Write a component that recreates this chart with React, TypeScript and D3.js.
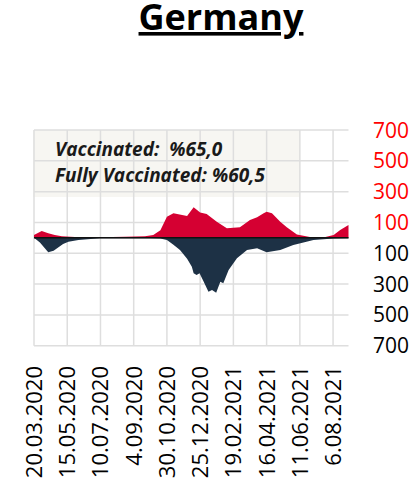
import React from 'react';
import * as d3 from 'd3';

// cases (drawn upward, red)
const caseDates = [
  '2020-03-20', '2020-04-02', '2020-04-13', '2020-04-24', '2020-05-06', '2020-05-28',
  '2020-07-09', '2020-08-20', '2020-09-23', '2020-10-07', '2020-10-19', '2020-10-30',
  '2020-11-10', '2020-12-03', '2020-12-14', '2020-12-25', '2021-01-05', '2021-01-22',
  '2021-02-08', '2021-03-02', '2021-03-19', '2021-03-31', '2021-04-11', '2021-04-16',
  '2021-04-25', '2021-05-09', '2021-05-20', '2021-06-06', '2021-06-28', '2021-07-24',
  '2021-08-07', '2021-08-18', '2021-09-01',
];
const caseValues = [
  19, 44, 30, 18, 10, 5,
  4, 7, 10, 18, 50, 137,
  160, 142, 198, 165, 155, 105,
  62, 68, 116, 133, 160, 170,
  160, 105, 68, 22, 5, 6,
  19, 51, 83,
];

// deaths (drawn downward, navy)
const deathDates = [
  '2020-03-20', '2020-03-30', '2020-04-13', '2020-04-22', '2020-05-08', '2020-05-17',
  '2020-06-03', '2020-07-09', '2020-10-02', '2020-10-19', '2020-10-30', '2020-11-10',
  '2020-11-21', '2020-12-03', '2020-12-11', '2020-12-14', '2020-12-19', '2020-12-24',
  '2020-12-31', '2021-01-08', '2021-01-14', '2021-01-21', '2021-01-28', '2021-02-02',
  '2021-02-11', '2021-02-25', '2021-03-14', '2021-03-31', '2021-04-16', '2021-05-09',
  '2021-05-31', '2021-06-12', '2021-07-04', '2021-08-07', '2021-09-01',
];
const deathValues = [
  0, 30, 94, 83, 40, 25,
  14, 3, 3, 5, 14, 45,
  79, 135, 187, 230, 241, 230,
  285, 350, 339, 356, 285, 295,
  209, 133, 79, 68, 94, 79,
  46, 35, 14, 4, 2,
];

const xTickDates = [
  '2020-03-20', '2020-05-15', '2020-07-10', '2020-09-04', '2020-10-30',
  '2020-12-25', '2021-02-19', '2021-04-16', '2021-06-11', '2021-08-06',
];
const yTicks = [700, 500, 300, 100, -100, -300, -500, -700];

const title = 'Germany';
const vaccinated = 'Vaccinated:  %65,0';
const fullyVaccinated = 'Fully Vaccinated: %60,5';

const parse = d3.utcParse('%Y-%m-%d');
const fmt = d3.utcFormat('%d.%m.%Y');
const tickLabel = (d: Date) => {
  const s = fmt(d);
  return s.startsWith('0') ? s.slice(1) : s;
};

const W = 415;
const H = 492;
const plot = { left: 34, right: 348.5, top: 130, bottom: 345.7 };
const FONT = "'Open Sans', sans-serif";

export default function App() {
  const x = d3
    .scaleUtc()
    .domain([parse('2020-03-20')!, parse('2021-09-01')!])
    .range([plot.left, plot.right]);
  const y = d3.scaleLinear().domain([-700, 700]).range([plot.bottom, plot.top]);

  const cases = caseDates.map((d, i) => ({ date: parse(d)!, v: caseValues[i] }));
  const deaths = deathDates.map((d, i) => ({ date: parse(d)!, v: -deathValues[i] }));

  const area = d3
    .area<{ date: Date; v: number }>()
    .x((d) => x(d.date))
    .y0(y(0))
    .y1((d) => y(d.v))
    .curve(d3.curveLinear);

  return (
    <div style={{ position: 'absolute', left: 0, top: 0 }}>
      <svg width={W} height={H} style={{ display: 'block', fontFamily: FONT }}>
        <text
          x={221}
          y={30}
          textAnchor="middle"
          fontSize={36}
          fontWeight={700}
          textDecoration="underline"
          fill="#000"
        >
          {title}
        </text>

        {/* info box */}
        <rect x={33} y={plot.top} width={267} height={67} fill="#f7f6f2" />

        {/* grid */}
        {xTickDates.map((d) => (
          <line
            key={d}
            x1={x(parse(d)!)}
            x2={x(parse(d)!)}
            y1={plot.top}
            y2={plot.bottom}
            stroke="#dedede"
            strokeWidth={1.5}
          />
        ))}
        {yTicks.map((t) => (
          <line
            key={t}
            x1={plot.left}
            x2={plot.right}
            y1={y(t)}
            y2={y(t)}
            stroke="#dedede"
            strokeWidth={1.5}
          />
        ))}

        <text x={55} y={156} fontSize={19} fontWeight={700} fontStyle="italic" fill="#1a1a1a" style={{ whiteSpace: 'pre' }}>
          {vaccinated}
        </text>
        <text x={55} y={182} fontSize={19} fontWeight={700} fontStyle="italic" fill="#1a1a1a">
          {fullyVaccinated}
        </text>

        <path d={area(cases) || ''} fill="#d50032" />
        <path d={area(deaths) || ''} fill="#1d3145" />
        <line x1={plot.left} x2={plot.right} y1={y(0)} y2={y(0)} stroke="#111" strokeWidth={1.5} />

        {/* right axis labels */}
        {yTicks.map((t) => (
          <text
            key={t}
            x={373}
            y={y(t)}
            dy="0.36em"
            fontSize={21}
            fill={t > 0 ? '#ff0000' : '#000'}
          >
            {Math.abs(t)}
          </text>
        ))}

        {/* x labels */}
        {xTickDates.map((d) => {
          const px = x(parse(d)!);
          return (
            <text
              key={d}
              transform={`translate(${px},366) rotate(-90)`}
              textAnchor="end"
              dy="0.36em"
              fontSize={22}
              fill="#000"
            >
              {tickLabel(parse(d)!)}
            </text>
          );
        })}
      </svg>
    </div>
  );
}
